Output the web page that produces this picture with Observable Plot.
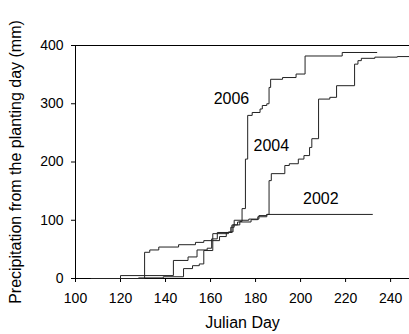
<!DOCTYPE html>
<html>
<head>
<meta charset="utf-8">
<script src="https://cdn.jsdelivr.net/npm/d3@7"></script>
<script src="https://cdn.jsdelivr.net/npm/@observablehq/plot@0.6"></script>
<style>
  html, body { margin: 0; padding: 0; background: #fff; }
</style>
</head>
<body>
<div id="chart"></div>
<script>
// Cumulative precipitation (mm) from planting day, by Julian day (step points)
const series2002 = [
  [107, 0], [120, 5], [143.5, 31], [150, 37], [154, 49], [158.5, 52], [160.5, 68],
  [163, 79], [169, 88], [170.5, 100], [177, 102], [181.5, 108], [185, 110], [232, 110]
];
const series2004 = [
  [107, 0], [128, 1], [139, 3], [148, 17], [152, 22], [155, 25], [157, 48], [161, 65],
  [164, 72], [167, 79], [169.5, 92], [172, 97], [178, 101], [181, 106], [185, 110],
  [186, 168], [187, 180], [193, 194], [195, 197], [199, 205], [201.5, 211], [204, 225],
  [205, 240], [208, 308], [213, 311], [216, 331], [224, 368], [225.5, 374], [227, 378],
  [233, 380], [243, 381], [248.4, 382]
];
const series2006 = [
  [107, 0], [130.7, 45], [133, 49], [137, 54], [145.8, 58], [153.3, 62], [157, 65],
  [161, 77], [168, 80], [170, 92], [173, 98], [174, 120], [175.5, 205], [176.5, 280],
  [178.5, 285], [182, 291], [183, 297], [185, 300], [186, 328], [186.7, 342], [192, 345],
  [198, 351], [202, 382], [218.5, 388], [234, 388]
];
const years = ["2002", "2004", "2006"];
const labelPos = [[209, 137], [187, 228], [169.3, 309]]; // day, mm for year labels
const xTicks = [100, 120, 140, 160, 180, 200, 220, 240];
const yTicks = [0, 100, 200, 300, 400];

const rows = [];
[series2002, series2004, series2006].forEach((s, i) =>
  s.forEach(([day, mm]) => rows.push({year: years[i], day, mm}))
);
const labels = years.map((y, i) => ({year: y, day: labelPos[i][0], mm: labelPos[i][1]}));

const chart = Plot.plot({
  width: 409,
  height: 334,
  marginLeft: 75,
  marginRight: 0,
  marginTop: 45,
  marginBottom: 56,
  style: {fontFamily: "'Liberation Sans', Arial, sans-serif", fontSize: "14px", color: "#000", background: "#fff"},
  x: {domain: [100, 248.4]},
  y: {domain: [0, 400]},
  marks: [
    Plot.axisX({ticks: xTicks, tickSize: 4, tickPadding: 11, fontSize: 14, label: "Julian Day", labelAnchor: "center", labelArrow: "none", labelOffset: 49}),
    Plot.axisY({ticks: yTicks, tickSize: 4, tickPadding: 8, fontSize: 14, label: "Precipitation from the planting day (mm)", labelAnchor: "center", labelArrow: "none", labelOffset: 66}),
    Plot.ruleY([0], {stroke: "#000"}),
    Plot.ruleY([400], {stroke: "#000"}),
    Plot.ruleX([100], {y1: 0, y2: 400, stroke: "#000"}),
    Plot.line(rows, {x: "day", y: "mm", z: "year", curve: "step-after", stroke: "#222", strokeWidth: 1}),
    Plot.text(labels, {x: "day", y: "mm", text: "year", fontSize: 16, fill: "#000"})
  ]
});
chart.querySelectorAll("g[aria-label='x-axis label'] text, g[aria-label='y-axis label'] text").forEach(t => t.style.fontSize = "16px");
document.getElementById("chart").appendChild(chart);
</script>
</body>
</html>
